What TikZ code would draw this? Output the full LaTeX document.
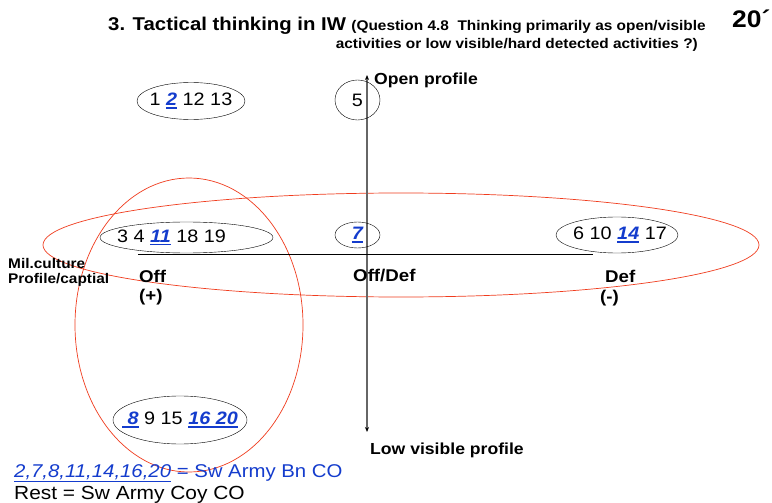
\documentclass[tikz,border=0pt]{standalone}
\usepackage{fontspec}
\setmainfont[FakeStretch=1.1]{Liberation Sans}
\usepackage{tikz}
\usetikzlibrary{shapes.geometric, arrows.meta, positioning, calc}
\definecolor{armyblue}{RGB}{20,60,205}
\definecolor{ringred}{RGB}{240,60,30}
\newcommand{\bnum}[1]{{\color{armyblue}\bfseries\itshape
    \setbox0=\hbox{#1}\rlap{\rule[-3pt]{\wd0}{1.6pt}}\box0}}
\newcommand{\grptext}[1]{\makebox[0pt]{#1}}

\begin{document}
\begin{tikzpicture}[x=1pt, y=-1pt]
      \tikzset{grp/.style={draw, ellipse, thin, inner sep=0pt,
          font=\fontsize{18}{20}\selectfont},
        axislabel/.style={inner sep=0pt, font=\fontsize{16}{18}\selectfont\bfseries},
        poslabel/.style={inner sep=0pt, font=\fontsize{17}{19}\selectfont\bfseries},
        ring/.style={draw=ringred, line width=0.7pt}
      }
      \useasboundingbox [fill=white] (0,0) rectangle (772,503);
      % title
      \node [inner sep=0pt, anchor=base west, font=\fontsize{18.5}{20}\selectfont\bfseries]
        (title) at (108,31) {3. Tactical thinking in IW};
      \node [inner sep=0pt, anchor=base west, font=\fontsize{14}{16}\selectfont\bfseries]
        (quest) at ($(title.base east)+(5,0)$) {(Question 4.8\ \ Thinking primarily as open/visible};
      \node [inner sep=0pt, anchor=base east, font=\fontsize{14}{16}\selectfont\bfseries]
        (quest2) at (698,49) {activities or low visible/hard detected activities ?)};
      \node [inner sep=0pt, anchor=base west, font=\fontsize{24}{26}\selectfont\bfseries]
        (min) at (732,28) {20´};
      % red rings
      \draw [ring] (401,245) ellipse [x radius=358pt, y radius=52pt];
      \draw [ring] (189,325) ellipse [x radius=114pt, y radius=147pt];
      % axes
      \coordinate (open) at (367,75);
      \coordinate (low) at (367,432);
      \coordinate (lstart) at (138,254);
      \coordinate (lend) at (593,254);
      \draw [line width=1.2pt, black!60, {Stealth[length=5pt,width=4pt,black]}-{Stealth[length=5pt,width=4pt,black]}] (low) -- (open);
      \draw [thin] (lstart) -- (lend);
      \node [axislabel, anchor=west] (openl) at (374,80) {Open profile};
      \node [axislabel, anchor=west] (lowl) at (370,450) {Low visible profile};
      % groups
      \node [grp, minimum width=108pt, minimum height=37pt] (g1) at (191,101) {\grptext{1 \bnum{2} 12 13}};
      \node [grp, minimum width=45pt, minimum height=40pt] (g5) at (357.5,100) {\grptext{5}};
      \node [grp, minimum width=173pt, minimum height=31pt] (g3) at (186.5,237.5) {\grptext{3 4 \bnum{11} 18 19\hspace{30pt}}};
      \node [grp, minimum width=45pt, minimum height=26pt] (g7) at (357.5,235) {\grptext{\bnum{7}}};
      \node [grp, minimum width=122pt, minimum height=36pt] (g6) at (617,235) {\grptext{\hspace{6pt}6 10 \bnum{14} 17}};
      \node [grp, minimum width=134pt, minimum height=48pt] (g8) at (180,420) {\grptext{\bnum{\ 8} 9 15 \bnum{16 20}}};
      % positions
      \node [inner sep=0pt, anchor=west, align=left, font=\fontsize{14}{15}\selectfont\bfseries]
        (mil) at (8,272) {Mil.culture\\Profile/captial};
      \node [poslabel, anchor=west] (off) at (139,276) {Off};
      \node [poslabel, anchor=west] (offp) at (139,297) {(+)};
      \node [poslabel, anchor=west] (offdef) at (353,276) {Off/Def};
      \node [poslabel, anchor=west] (def) at (605,276) {Def};
      \node [poslabel, anchor=west] (defm) at (600,298) {(-)};
      % legend
      \node [inner sep=0pt, anchor=base west, font=\fontsize{18.5}{20}\selectfont, text=armyblue]
        (bn) at (14,477) {\underline{\itshape 2,7,8,11,14,16,20} = Sw Army Bn CO};
      \node [inner sep=0pt, anchor=base west, font=\fontsize{19}{20}\selectfont]
        (coy) at (14,499) {Rest = Sw Army Coy CO};
\end{tikzpicture}
\end{document}
